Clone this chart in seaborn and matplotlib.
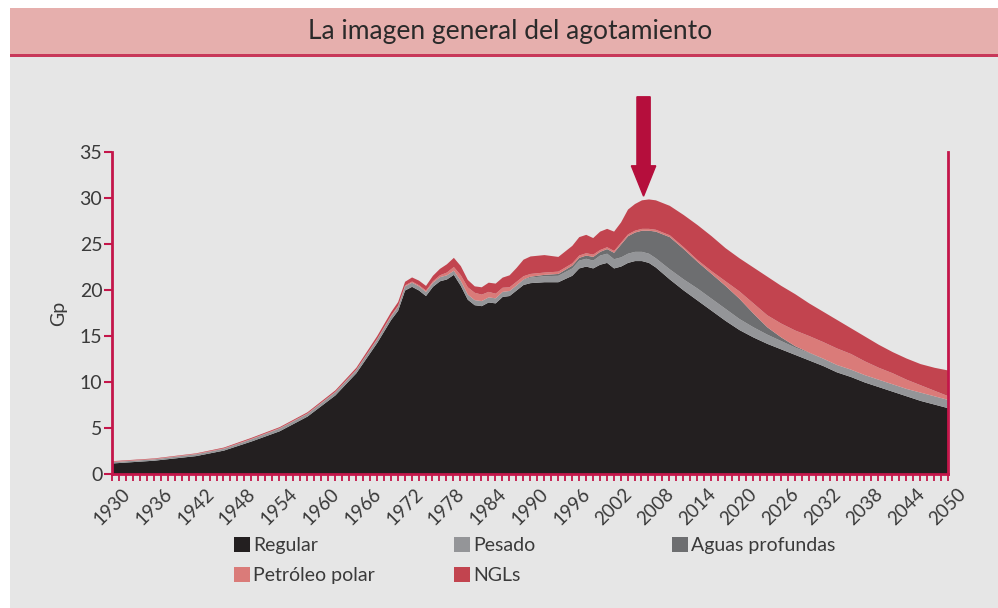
import numpy as np
import matplotlib
matplotlib.use("Agg")
import matplotlib.pyplot as plt
from matplotlib.patches import Rectangle, Patch
import seaborn as sns

# datos (Gp por año)
anios = [1930, 1936, 1942, 1946, 1950, 1954, 1958, 1962, 1965, 1968,
         1970, 1971, 1972, 1973, 1974, 1975, 1976, 1977, 1978, 1979,
         1980, 1981, 1982, 1983, 1984, 1985, 1986, 1987, 1988, 1989,
         1990, 1992, 1994, 1996, 1997, 1998, 1999, 2000, 2001, 2002,
         2003, 2004, 2005, 2006, 2007, 2008, 2010, 2012, 2014, 2016,
         2018, 2020, 2022, 2024, 2026, 2028, 2030, 2032, 2034, 2036,
         2038, 2040, 2042, 2044, 2046, 2048, 2050]

regular = [1.2, 1.5, 2.0, 2.6, 3.6, 4.7, 6.3, 8.6, 11.0, 14.3,
           16.8, 17.8, 20.0, 20.4, 20.0, 19.4, 20.4, 21.0, 21.2, 21.7,
           20.5, 19.0, 18.4, 18.3, 18.7, 18.6, 19.3, 19.4, 20.0, 20.6,
           20.8, 20.9, 20.9, 21.6, 22.4, 22.6, 22.4, 22.8, 23.0, 22.4,
           22.6, 23.0, 23.2, 23.2, 23.0, 22.5, 21.2, 20.0, 18.9, 17.8,
           16.7, 15.7, 14.9, 14.2, 13.6, 13.0, 12.4, 11.8, 11.1, 10.6,
           10.0, 9.5, 9.0, 8.5, 8.0, 7.6, 7.2]

pesado = [0.15, 0.15, 0.2, 0.2, 0.25, 0.3, 0.3, 0.35, 0.35, 0.4,
          0.4, 0.45, 0.45, 0.45, 0.45, 0.45, 0.45, 0.45, 0.45, 0.45,
          0.55, 0.55, 0.55, 0.55, 0.55, 0.55, 0.55, 0.55, 0.55, 0.55,
          0.6, 0.65, 0.7, 0.8, 0.85, 0.85, 0.85, 1.0, 1.0, 1.0,
          1.0, 1.0, 1.0, 1.0, 1.0, 1.0, 1.1, 1.2, 1.3, 1.3,
          1.3, 1.2, 1.1, 1.0, 0.9, 0.8, 0.8, 0.8, 0.8, 0.8,
          0.8, 0.8, 0.8, 0.8, 0.9, 0.9, 0.9]

aguas_profundas = [0, 0, 0, 0, 0, 0, 0, 0, 0, 0,
                   0, 0, 0, 0, 0, 0, 0, 0, 0, 0,
                   0, 0, 0, 0, 0, 0, 0, 0, 0, 0.05,
                   0.1, 0.15, 0.2, 0.3, 0.3, 0.35, 0.4, 0.4, 0.5, 0.7,
                   1.4, 1.9, 2.1, 2.3, 2.5, 2.9, 3.5, 3.3, 2.9, 2.7,
                   2.5, 2.2, 1.5, 0.8, 0.4, 0.15, 0.05, 0, 0, 0,
                   0, 0, 0, 0, 0, 0, 0]

petroleo_polar = [0.05, 0.05, 0.05, 0.05, 0.05, 0.05, 0.05, 0.05, 0.05, 0.05,
                  0.1, 0.1, 0.1, 0.12, 0.12, 0.15, 0.15, 0.2, 0.3, 0.4,
                  0.6, 0.8, 0.8, 0.7, 0.6, 0.5, 0.45, 0.4, 0.4, 0.35,
                  0.3, 0.25, 0.25, 0.25, 0.25, 0.25, 0.25, 0.2, 0.2, 0.2,
                  0.2, 0.2, 0.2, 0.2, 0.2, 0.2, 0.2, 0.2, 0.2, 0.3,
                  0.5, 0.8, 1.1, 1.3, 1.5, 1.7, 1.8, 1.8, 1.8, 1.7,
                  1.5, 1.3, 1.2, 1.0, 0.8, 0.6, 0.4]

ngls = [0.05, 0.05, 0.05, 0.08, 0.1, 0.1, 0.12, 0.15, 0.2, 0.3,
        0.35, 0.4, 0.4, 0.45, 0.5, 0.5, 0.6, 0.7, 0.9, 1.0,
        1.0, 0.8, 0.7, 0.8, 1.0, 1.1, 1.1, 1.3, 1.5, 1.8,
        1.9, 1.9, 1.6, 1.9, 2.0, 2.0, 1.8, 2.0, 2.0, 2.1,
        2.2, 2.7, 2.9, 3.1, 3.2, 3.2, 3.2, 3.5, 3.8, 3.8,
        3.6, 3.6, 3.9, 4.2, 4.1, 3.95, 3.55, 3.3, 3.1, 2.8,
        2.7, 2.5, 2.3, 2.3, 2.3, 2.5, 2.8]

etiquetas = ["Regular", "Pesado", "Aguas profundas", "Petróleo polar", "NGLs"]
colores = ["#231f20", "#949598", "#6d6e70", "#da7b79", "#c2444f"]

rojo = "#c4164a"
gris_fondo = "#e6e6e6"
texto = "#3a3a3a"

sns.set_theme(style="ticks")
plt.rcParams["font.family"] = ["Lato", "DejaVu Sans"]

fig = plt.figure(figsize=(9.98, 6.08), dpi=100, facecolor="white")

# fondo gris y franja del titulo
fig.patches.append(Rectangle((0.01, 0), 0.99, 551 / 608, transform=fig.transFigure,
                             facecolor=gris_fondo, edgecolor="none", zorder=-3))
fig.patches.append(Rectangle((0.01, 553 / 608), 0.99, 47 / 608, transform=fig.transFigure,
                             facecolor="#e6afad", edgecolor="none", zorder=-3))
fig.patches.append(Rectangle((0.01, 551 / 608), 0.99, 3 / 608, transform=fig.transFigure,
                             facecolor="#c8385a", edgecolor="none", zorder=-2))
fig.text(0.511, 577 / 608, "La imagen general del agotamiento", ha="center", va="center",
         fontsize=19, color="#2a2a2a")

ax = fig.add_axes([112 / 998, 1 - 474 / 608, 836 / 998, 322 / 608])
ax.set_facecolor("none")
ax.set_zorder(2)

ax.stackplot(anios, regular, pesado, aguas_profundas, petroleo_polar, ngls,
             colors=colores, labels=etiquetas, linewidth=0)

ax.set_xlim(1930, 2050)
ax.set_ylim(0, 35)
ax.set_yticks(range(0, 36, 5))
ax.set_xticks(range(1930, 2051, 6))
ax.set_xticks(range(1930, 2051, 1), minor=True)
ax.tick_params(axis="x", which="both", direction="out", length=5, width=1.3, color=rojo,
               labelsize=13.5, labelcolor=texto, rotation=45, pad=3)
ax.tick_params(axis="y", direction="out", length=6, width=1.5, color=rojo,
               labelsize=14, labelcolor=texto, pad=1)
for lab in ax.get_xticklabels():
    lab.set_ha("center")
ax.set_ylabel("Gp", fontsize=14, color=texto, labelpad=9)

sns.despine(ax=ax, top=True, right=False)
for lado in ["left", "bottom", "right"]:
    ax.spines[lado].set_color(rojo)
    ax.spines[lado].set_linewidth(2)

# flecha sobre el pico
total = np.sum([regular, pesado, aguas_profundas, petroleo_polar, ngls], axis=0)
pico = anios[int(np.argmax(total))]
ax.arrow(pico - 0.7, 41.0, 0, -10.8, width=1.9, head_width=3.5, head_length=3.3,
         length_includes_head=True, color="#b50e3c", clip_on=False, zorder=5)

# leyenda en tres columnas
handles = [Patch(facecolor=c, edgecolor="none") for c in colores]
columnas = [([0, 3], 234), ([1, 4], 454), ([2], 672)]
for idx, xpix in columnas:
    fig.legend([handles[i] for i in idx], [etiquetas[i] for i in idx],
               loc="upper left", bbox_to_anchor=(xpix / 998, 1 - 537 / 608),
               frameon=False, fontsize=14, labelcolor=texto,
               handlelength=0.8, handleheight=0.8, handletextpad=0.2,
               labelspacing=0.65, borderpad=0, borderaxespad=0)

fig.savefig("out.png", dpi=100, facecolor=fig.get_facecolor())
